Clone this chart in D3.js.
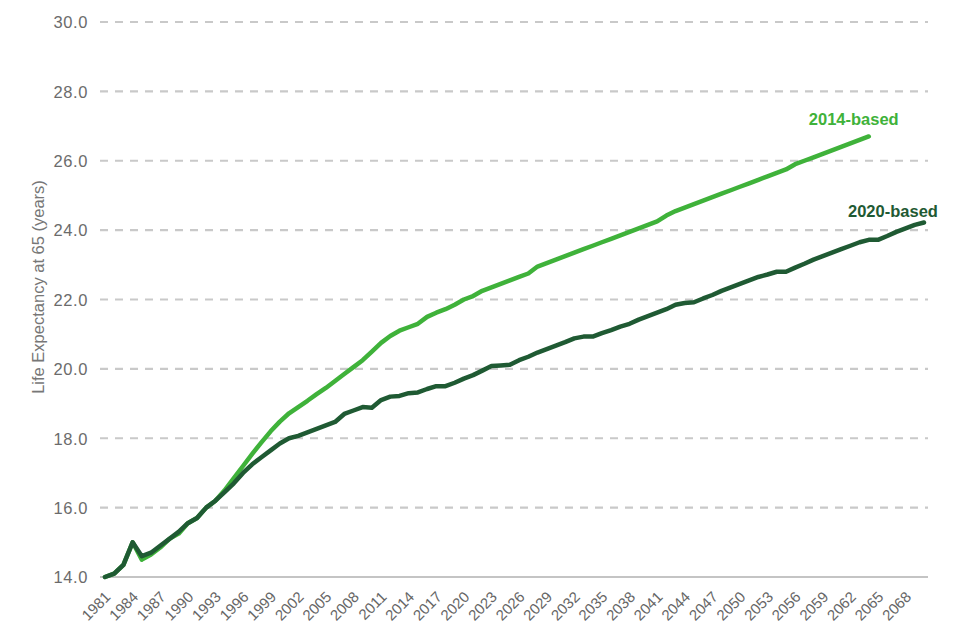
<!DOCTYPE html>
<html>
<head>
<meta charset="utf-8">
<script src="https://cdn.jsdelivr.net/npm/d3@7"></script>
<style>
  html, body { margin: 0; padding: 0; background: #fff; }
  svg { display: block; font-family: "Liberation Sans", Arial, sans-serif; }
</style>
</head>
<body>
<svg id="chart" width="960" height="640"></svg>
<script>
// ---- Data ----
const years = d3.range(1981, 2071); // 1981 .. 2070

const xTickLabels = ["1981","1984","1987","1990","1993","1996","1999","2002","2005","2008",
  "2011","2014","2017","2020","2023","2026","2029","2032","2035","2038","2041","2044",
  "2047","2050","2053","2056","2059","2062","2065","2068"];

const yTicks = [14, 16, 18, 20, 22, 24, 26, 28, 30];

// 2014-based projection, 1981 .. 2064
const based2014 = [
  14.0, 14.1, 14.35, 15.0, 14.5, 14.65, 14.85, 15.1, 15.25, 15.55,   // 1981-1990
  15.7, 16.0, 16.2, 16.5, 16.85, 17.2, 17.55, 17.88, 18.2, 18.48,    // 1991-2000
  18.72, 18.9, 19.08, 19.27, 19.45, 19.65, 19.85, 20.05, 20.25, 20.5, // 2001-2010
  20.75, 20.95, 21.1, 21.2, 21.3, 21.5, 21.62, 21.72, 21.85, 22.0,   // 2011-2020
  22.1, 22.25, 22.35, 22.45, 22.55, 22.65, 22.75, 22.95, 23.05, 23.15, // 2021-2030
  23.25, 23.35, 23.45, 23.55, 23.65, 23.75, 23.85, 23.95, 24.05, 24.15, // 2031-2040
  24.25, 24.42, 24.55, 24.65, 24.75, 24.85, 24.95, 25.05, 25.15, 25.25, // 2041-2050
  25.35, 25.45, 25.55, 25.65, 25.75, 25.9, 26.0, 26.1, 26.2, 26.3,    // 2051-2060
  26.4, 26.5, 26.6, 26.7                                               // 2061-2064
];

// 2020-based projection, 1981 .. 2070
const based2020 = [
  14.0, 14.1, 14.35, 15.0, 14.6, 14.7, 14.9, 15.1, 15.3, 15.55,       // 1981-1990
  15.7, 16.0, 16.2, 16.45, 16.7, 17.0, 17.25, 17.45, 17.65, 17.85,    // 1991-2000
  18.0, 18.07, 18.17, 18.27, 18.37, 18.47, 18.7, 18.8, 18.9, 18.88,   // 2001-2010
  19.1, 19.2, 19.22, 19.3, 19.32, 19.42, 19.5, 19.5, 19.6, 19.72,     // 2011-2020
  19.82, 19.95, 20.08, 20.1, 20.12, 20.25, 20.35, 20.47, 20.57, 20.67, // 2021-2030
  20.77, 20.88, 20.93, 20.93, 21.03, 21.12, 21.22, 21.3, 21.42, 21.52, // 2031-2040
  21.62, 21.72, 21.85, 21.9, 21.92, 22.03, 22.13, 22.25, 22.35, 22.45, // 2041-2050
  22.55, 22.65, 22.72, 22.8, 22.8, 22.92, 23.03, 23.15, 23.25, 23.35,  // 2051-2060
  23.45, 23.55, 23.65, 23.72, 23.72, 23.83, 23.95, 24.05, 24.15, 24.22 // 2061-2070
];

const seriesNames = ["2014-based", "2020-based"];
const seriesColors = ["#3fb23a", "#1f5a33"];

// ---- Layout ----
const svg = d3.select("#chart");
const plot = { left: 100, right: 928, top: 22, bottom: 577 };

const x = d3.scalePoint().domain(years).range([105, 924]);
const y = d3.scaleLinear().domain([14, 30]).range([plot.bottom, plot.top]);

// Gridlines (dashed)
svg.append("g")
  .selectAll("line")
  .data(yTicks.filter(d => d > 14))
  .join("line")
  .attr("x1", plot.left).attr("x2", plot.right)
  .attr("y1", d => y(d)).attr("y2", d => y(d))
  .attr("stroke", "#c9c9c9")
  .attr("stroke-width", 2.2)
  .attr("stroke-dasharray", "8,7");

// Baseline
svg.append("line")
  .attr("x1", plot.left).attr("x2", plot.right)
  .attr("y1", y(14)).attr("y2", y(14))
  .attr("stroke", "#c4c4c4")
  .attr("stroke-width", 2.2);

// Y axis labels
const yAxis = d3.axisLeft(y).tickValues(yTicks).tickFormat(d3.format(".1f")).tickSize(0).tickPadding(0);
const gy = svg.append("g").attr("transform", `translate(88,0)`).call(yAxis);
gy.select(".domain").remove();
gy.selectAll("text")
  .attr("font-size", 16.5)
  .attr("font-family", "Liberation Sans, Arial, sans-serif")
  .attr("fill", "#6b6b6b")
  .attr("dy", "0.35em")
  .attr("letter-spacing", "0.6px");

// X axis labels (rotated)
const xAxis = d3.axisBottom(x).tickValues(xTickLabels.map(Number)).tickSize(0).tickPadding(0);
const gx = svg.append("g").attr("transform", `translate(0,589)`).call(xAxis);
gx.select(".domain").remove();
gx.selectAll("text")
  .attr("font-size", 15)
  .attr("font-family", "Liberation Sans, Arial, sans-serif")
  .attr("fill", "#666")
  .attr("text-anchor", "end")
  .attr("dy", "0.7em")
  .attr("transform", "rotate(-45)")
  .attr("x", -2)
  .attr("y", 0);

// Y axis title
svg.append("text")
  .attr("transform", "translate(44,287) rotate(-90)")
  .attr("text-anchor", "middle")
  .attr("font-size", 16.5)
  .attr("fill", "#777")
  .text("Life Expectancy at 65 (years)");

// Lines
const line = d3.line()
  .defined(d => d.v != null)
  .x(d => x(d.year))
  .y(d => y(d.v));

const allSeries = [based2014, based2020];
allSeries.forEach((vals, i) => {
  const pts = vals.map((v, j) => ({ year: years[j], v }));
  svg.append("path")
    .datum(pts)
    .attr("fill", "none")
    .attr("stroke", seriesColors[i])
    .attr("stroke-width", 4.5)
    .attr("stroke-linejoin", "round")
    .attr("stroke-linecap", "round")
    .attr("d", line);
});

// Series labels near line ends
const labelPos = [
  { series: 0, year: 2064, dx: -60, dy: -11 },
  { series: 1, year: 2070, dx: -76, dy: -5 }
];
labelPos.forEach(p => {
  const vals = allSeries[p.series];
  const v = vals[years.indexOf(p.year)];
  svg.append("text")
    .attr("x", x(p.year) + p.dx)
    .attr("y", y(v) + p.dy)
    .attr("font-size", 16.5)
    .attr("font-weight", "bold")
    .attr("fill", seriesColors[p.series])
    .text(seriesNames[p.series]);
});
</script>
</body>
</html>
